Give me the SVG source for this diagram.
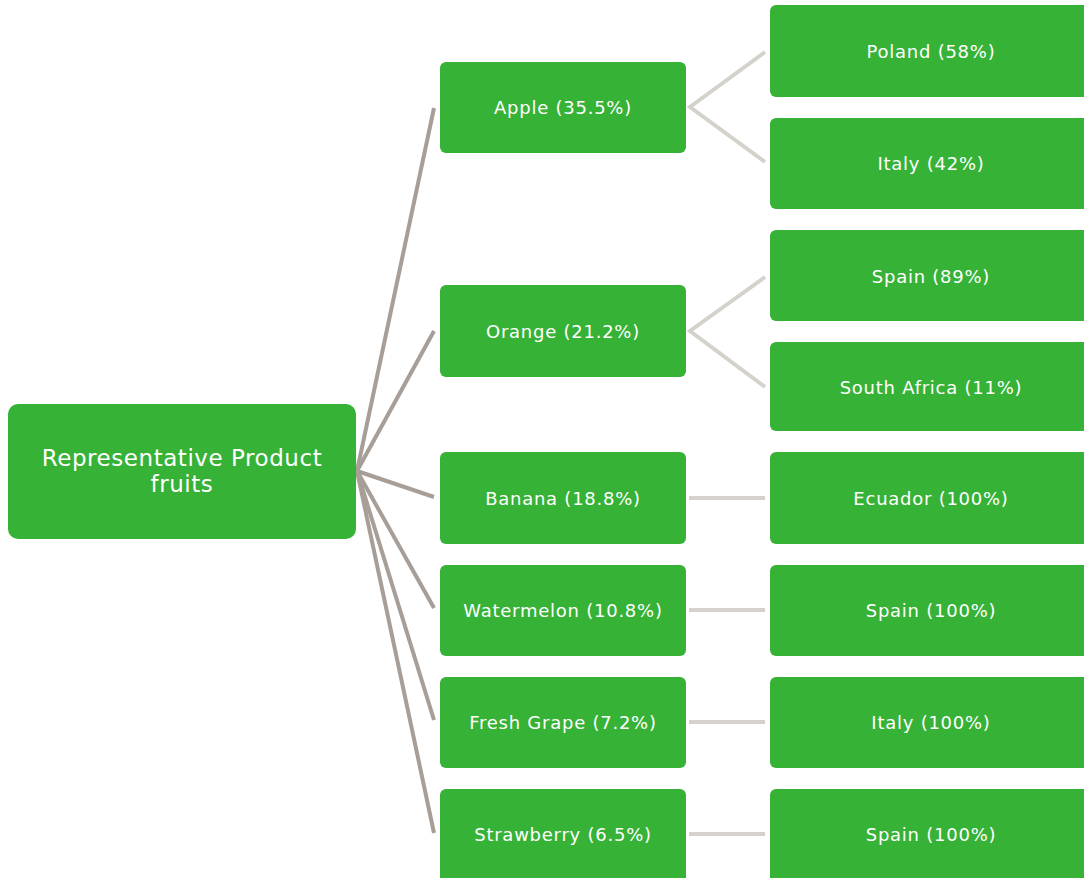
<svg xmlns="http://www.w3.org/2000/svg" width="1084" height="878" viewBox="0 0 1084 878">
<style>
.n{fill:#36b237;}
.t{fill:#ffffff;font-family:"DejaVu Sans",Verdana,sans-serif;font-size:18px;letter-spacing:0.75px;text-anchor:middle;dominant-baseline:central;}
.r{font-size:23px;letter-spacing:0.55px;}
.c1{stroke:#a69e97;stroke-width:4;fill:none;stroke-linecap:butt;}
.c2{stroke:#d5d2cb;stroke-width:4;fill:none;stroke-linecap:butt;}
</style>
<rect width="1084" height="878" fill="#ffffff"/>
<g id="connectors">
<line class="c1" x1="357" y1="471" x2="434" y2="108"/>
<line class="c1" x1="357" y1="471" x2="434" y2="331"/>
<line class="c1" x1="357" y1="471" x2="434" y2="497"/>
<line class="c1" x1="357" y1="471" x2="434" y2="608"/>
<line class="c1" x1="357" y1="471" x2="434" y2="720"/>
<line class="c1" x1="357" y1="471" x2="434" y2="833"/>
<polyline class="c2" points="765,52 690,107 765,162"/>
<polyline class="c2" points="765,277 690,331 765,387"/>
<line class="c2" x1="689" y1="498" x2="765" y2="498"/>
<line class="c2" x1="689" y1="610" x2="765" y2="610"/>
<line class="c2" x1="689" y1="722" x2="765" y2="722"/>
<line class="c2" x1="689" y1="834" x2="765" y2="834"/>
</g>
<g id="root"><rect class="n" x="8" y="404" width="348" height="135" rx="10"/>
<text class="t r" x="182" y="458">Representative Product</text><text class="t r" x="182" y="484">fruits</text></g>
<g id="apple"><rect class="n" x="440" y="62" width="246" height="91" rx="6"/><text class="t" x="563" y="107">Apple (35.5%)</text></g>
<g id="orange"><rect class="n" x="440" y="285" width="246" height="92" rx="6"/><text class="t" x="563" y="331">Orange (21.2%)</text></g>
<g id="banana"><rect class="n" x="440" y="452" width="246" height="92" rx="6"/><text class="t" x="563" y="498">Banana (18.8%)</text></g>
<g id="watermelon"><rect class="n" x="440" y="565" width="246" height="91" rx="6"/><text class="t" x="563" y="610">Watermelon (10.8%)</text></g>
<g id="grape"><rect class="n" x="440" y="677" width="246" height="91" rx="6"/><text class="t" x="563" y="722">Fresh Grape (7.2%)</text></g>
<g id="strawberry"><rect class="n" x="440" y="789" width="246" height="100" rx="6"/><text class="t" x="563" y="834">Strawberry (6.5%)</text></g>
<g id="poland"><rect class="n" x="770" y="5" width="322" height="92" rx="6"/><text class="t" x="931" y="51">Poland (58%)</text></g>
<g id="italy1"><rect class="n" x="770" y="118" width="322" height="91" rx="6"/><text class="t" x="931" y="163">Italy (42%)</text></g>
<g id="spain1"><rect class="n" x="770" y="230" width="322" height="91" rx="6"/><text class="t" x="931" y="276">Spain (89%)</text></g>
<g id="southafrica"><rect class="n" x="770" y="342" width="322" height="89" rx="6"/><text class="t" x="931" y="387">South Africa (11%)</text></g>
<g id="ecuador"><rect class="n" x="770" y="452" width="322" height="92" rx="6"/><text class="t" x="931" y="498">Ecuador (100%)</text></g>
<g id="spain2"><rect class="n" x="770" y="565" width="322" height="91" rx="6"/><text class="t" x="931" y="610">Spain (100%)</text></g>
<g id="italy2"><rect class="n" x="770" y="677" width="322" height="91" rx="6"/><text class="t" x="931" y="722">Italy (100%)</text></g>
<g id="spain3"><rect class="n" x="770" y="789" width="322" height="100" rx="6"/><text class="t" x="931" y="834">Spain (100%)</text></g>
</svg>
